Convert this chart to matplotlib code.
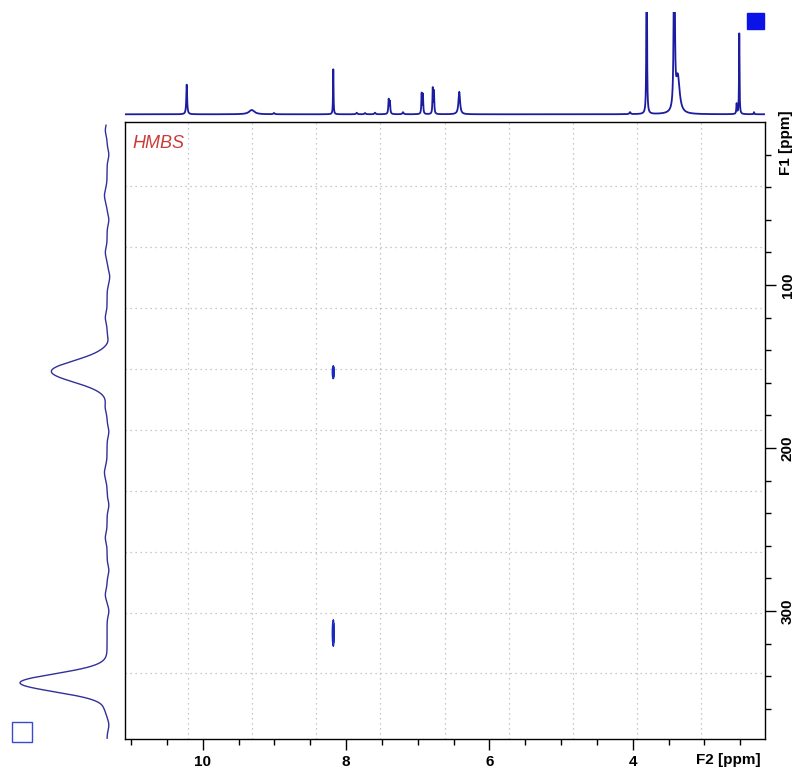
import numpy as np
import matplotlib.pyplot as plt
from matplotlib.ticker import MultipleLocator, FixedLocator
from matplotlib.patches import Rectangle

# ---- data ----
# F2 (1H) projection: peak position [ppm], relative height, half width [ppm]
h_pos = [10.223, 9.316, 9.005, 8.178, 7.851, 7.735, 7.596, 7.405, 7.388, 7.205,
         6.945, 6.927, 6.790, 6.773, 6.420, 4.038, 3.805, 3.420, 3.370, 2.550,
         2.513, 2.308]
h_int = [0.29, 0.042, 0.012, 0.44, 0.015, 0.012, 0.015, 0.14, 0.12, 0.02,
         0.20, 0.19, 0.25, 0.22, 0.22, 0.02, 2.5, 2.5, 0.35, 0.10,
         0.80, 0.02]
h_wid = [0.007, 0.045, 0.01, 0.004, 0.01, 0.01, 0.01, 0.006, 0.006, 0.01,
         0.005, 0.005, 0.005, 0.005, 0.013, 0.01, 0.004, 0.007, 0.03, 0.005,
         0.004, 0.005]

# F1 (13C) projection: peak position [ppm], relative height, width [ppm]
c_pos = [153.0, 344.0, 5, 20, 45, 60, 80, 95, 120, 135, 175, 190, 215, 235,
         255, 275, 290, 300, 360, 370]
c_int = [0.64, 1.00, 0.02, -0.02, 0.03, -0.02, 0.02, -0.03, 0.02, -0.02,
         0.02, -0.02, 0.03, -0.02, 0.02, -0.02, 0.02, -0.02, 0.02, -0.02]
c_wid = [6.5, 5.5, 3, 3, 4, 3, 3, 4, 3, 3, 3, 3, 4, 3, 3, 3, 3, 3, 3, 3]

# HMBC cross peaks: F2 [ppm], F1 [ppm], F1 half extent [ppm]
xp_f2 = [8.178, 8.178]
xp_f1 = [153.5, 313.5]
xp_w1 = [3.4, 6.9]

F2_LIM = (11.084, 2.154)
F1_LIM = (378.3, 0.0)


def lorentz_sum(x, pos, amp, wid):
    y = np.zeros_like(x)
    for p, a, w in zip(pos, amp, wid):
        y += a * w**2 / ((x - p)**2 + w**2)
    return y


def gauss_sum(x, pos, amp, wid):
    y = np.zeros_like(x)
    for p, a, w in zip(pos, amp, wid):
        y += a * np.exp(-0.5 * ((x - p) / w) ** 2)
    return y


W, H = 799, 771
fig = plt.figure(figsize=(W / 100, H / 100), dpi=100)
plt.rcParams['font.family'] = ['Liberation Sans', 'DejaVu Sans']


def px_rect(x0, y0, x1, y1):
    return [x0 / W, 1 - y1 / H, (x1 - x0) / W, (y1 - y0) / H]


blue = '#1c1ca0'

# main 2D axes
ax = fig.add_axes(px_rect(125, 122, 765, 738.7))
ax.set_xlim(*F2_LIM)
ax.set_ylim(*F1_LIM)

for k in range(9):
    ax.axvline(10.209 - 0.896 * k, color='#b8b8b8', lw=0.9, ls=(0, (1, 3)))
    ax.axhline(39.1 + 37.4 * k, color='#b8b8b8', lw=0.9, ls=(0, (1, 3)))

g2 = np.linspace(8.10, 8.26, 200)
g1 = np.linspace(0, 378.3, 2400)
G2, G1 = np.meshgrid(g2, g1)
Z = np.zeros_like(G2)
for f2, f1, w1 in zip(xp_f2, xp_f1, xp_w1):
    Z += np.exp(-((G2 - f2) / 0.013) ** 2 - ((G1 - f1) / w1) ** 2)
ax.contourf(G2, G1, Z, levels=[0.25, 0.55, 2], colors=['#6a78c8', '#2838b8'])
ax.contour(G2, G1, Z, levels=[0.25, 0.55], colors='#1828c0', linewidths=0.8)

ax.text(0.011, 0.979, 'HMBS', transform=ax.transAxes, color='#cc3a3a',
        style='italic', fontsize=13, ha='left', va='top')

ax.xaxis.set_major_locator(MultipleLocator(2))
ax.xaxis.set_minor_locator(MultipleLocator(0.5))
ax.yaxis.tick_right()
ax.yaxis.set_major_locator(FixedLocator([100, 200, 300]))
ax.yaxis.set_minor_locator(FixedLocator([v for v in range(20, 378, 20) if v % 100]))
ax.tick_params(which='major', direction='out', length=8, width=1, pad=3.5,
               labelsize=11)
ax.tick_params(which='minor', direction='out', length=4.5, width=1)
for lab in ax.get_xticklabels() + ax.get_yticklabels():
    lab.set_fontweight('bold')
for lab in ax.get_yticklabels():
    lab.set_rotation(90)
    lab.set_va('center')
for s in ax.spines.values():
    s.set_linewidth(1.0)

fig.text(728 / W, 1 - 760 / H, 'F2 [ppm]', fontsize=11, fontweight='bold',
         ha='center', va='center')
fig.text(786 / W, 1 - 143 / H, 'F1 [ppm]', fontsize=11, fontweight='bold',
         ha='center', va='center', rotation=90)

# top 1H projection
axt = fig.add_axes(px_rect(125, 12, 765, 120))
x2 = np.linspace(F2_LIM[0], F2_LIM[1], 8000)
axt.plot(x2, lorentz_sum(x2, h_pos, h_int, h_wid), color=blue, lw=1.3)
axt.set_xlim(*F2_LIM)
axt.set_ylim(-0.0557, 1.0)
axt.axis('off')

# left 13C projection
axl = fig.add_axes(px_rect(10, 122, 115, 738.7))
y1 = np.linspace(2, 378, 3000)
axl.plot(gauss_sum(y1, c_pos, c_int, c_wid), y1, color='#30309a', lw=1.0)
axl.set_xlim(1.115, -0.091)
axl.set_ylim(*F1_LIM)
axl.axis('off')

# corner markers
fig.patches.append(Rectangle((747 / W, 1 - 29 / H), 17 / W, 16 / H,
                             transform=fig.transFigure, color='#0a14e6'))
fig.patches.append(Rectangle((12 / W, 1 - 742 / H), 20 / W, 20 / H,
                             transform=fig.transFigure, fill=False,
                             edgecolor='#3a4ad0', lw=1.0))

fig.savefig('out.png', dpi=100)
